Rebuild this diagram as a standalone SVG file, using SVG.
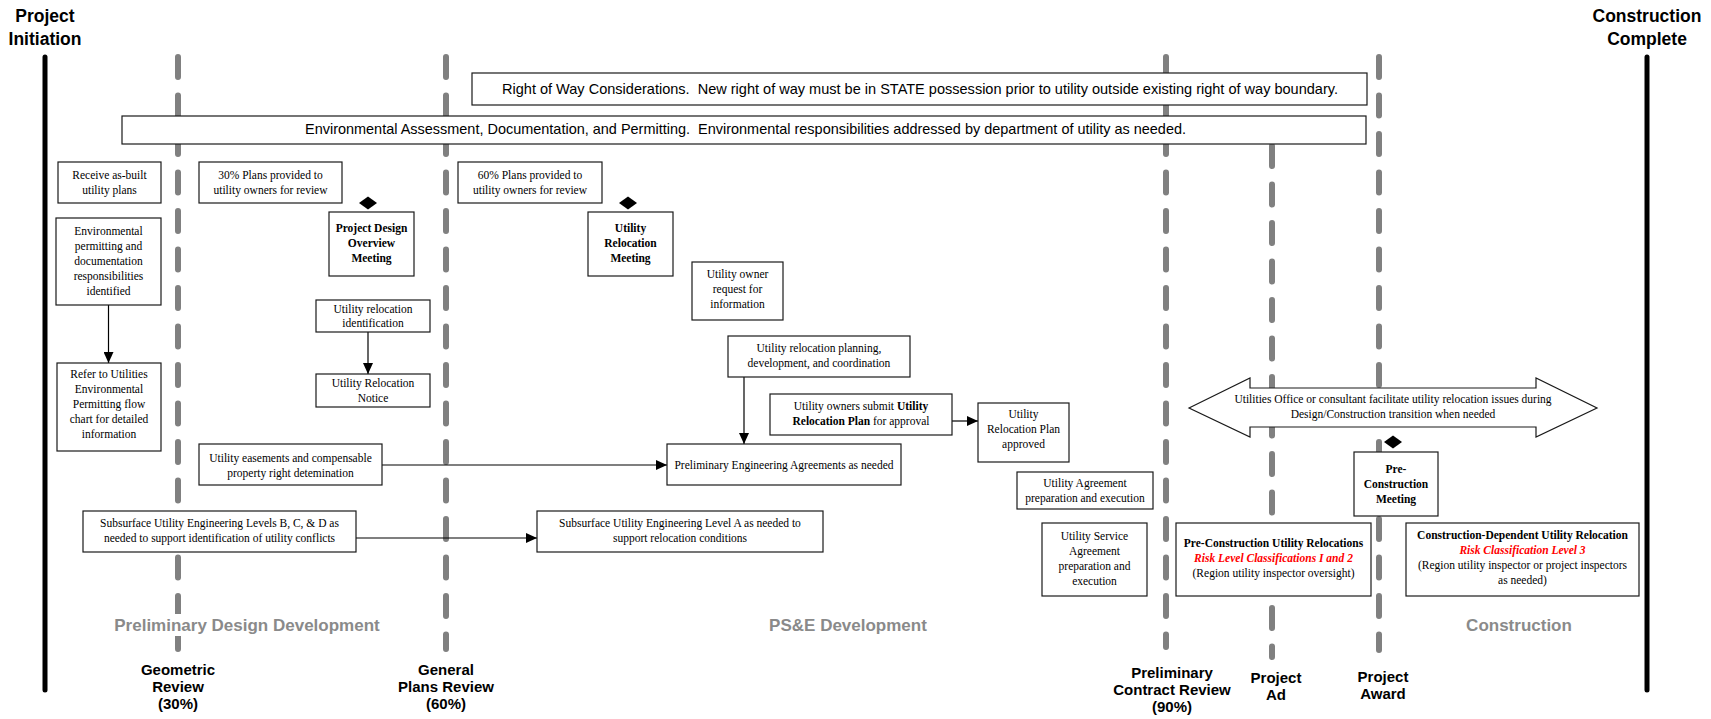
<svg xmlns="http://www.w3.org/2000/svg" width="1711" height="719" viewBox="0 0 1711 719">
<style>
.box{fill:#fff;stroke:#1a1a1a;stroke-width:1.2}
.t{font-family:"Liberation Serif","Times New Roman",serif;font-size:11.5px;fill:#000;text-anchor:middle}
.b{font-weight:bold}
.red{fill:#ff0000;font-weight:bold;font-style:italic}
.banner{font-family:"Liberation Sans",Arial,sans-serif;font-size:15px;fill:#000;text-anchor:middle}
.ms{font-family:"Liberation Sans",Arial,sans-serif;font-size:15px;font-weight:bold;fill:#000;text-anchor:middle}
.title{font-family:"Liberation Sans",Arial,sans-serif;font-size:17.5px;font-weight:bold;fill:#000;text-anchor:middle}
.phase{font-family:"Liberation Sans",Arial,sans-serif;font-size:17px;font-weight:bold;fill:#8a8a8a;text-anchor:middle}
.dash{stroke:#808080;stroke-width:6;stroke-dasharray:20 18.5;stroke-linecap:round;fill:none}
.bound{stroke:#000;stroke-width:5;stroke-linecap:round;fill:none}
.conn{stroke:#000;stroke-width:1.2;fill:none;marker-end:url(#ah)}
.dia{fill:#000}
</style>
<defs>
<marker id="ah" markerUnits="userSpaceOnUse" markerWidth="12" markerHeight="10" refX="11" refY="5" orient="auto">
<path d="M0,0 L11,5 L0,10 z" fill="#000"/>
</marker>
</defs>
<rect width="1711" height="719" fill="#fff"/>

<g id="timeline">
<line class="bound" x1="45" y1="57" x2="45" y2="690"/>
<line class="bound" x1="1647" y1="57" x2="1647" y2="690"/>
<line class="dash" x1="178" y1="57" x2="178" y2="649"/>
<line class="dash" x1="446" y1="57" x2="446" y2="649"/>
<line class="dash" x1="1166" y1="57" x2="1166" y2="647"/>
<line class="dash" x1="1272" y1="146" x2="1272" y2="657"/>
<line class="dash" x1="1379" y1="57" x2="1379" y2="650"/>
</g>

<g id="titles">
<text class="title" x="45" y="22">Project</text>
<text class="title" x="45" y="45">Initiation</text>
<text class="title" x="1647" y="22">Construction</text>
<text class="title" x="1647" y="45">Complete</text>
</g>

<g id="row-banner">
<rect class="box" x="472" y="73" width="895" height="32"/>
<text class="banner" x="920" y="94" textLength="836" lengthAdjust="spacingAndGlyphs">Right of Way Considerations.&#160; New right of way must be in STATE possession prior to utility outside existing right of way boundary.</text>
</g>
<g id="env-banner">
<rect class="box" x="122" y="116" width="1244" height="28"/>
<text class="banner" x="745.5" y="134" textLength="881" lengthAdjust="spacingAndGlyphs">Environmental Assessment, Documentation, and Permitting.&#160; Environmental responsibilities addressed by department of utility as needed.</text>
</g>

<g id="connectors">
<line class="conn" x1="108.5" y1="305" x2="108.5" y2="363"/>
<line class="conn" x1="368" y1="332" x2="368" y2="374"/>
<line class="conn" x1="382" y1="465" x2="667" y2="465"/>
<line class="conn" x1="356" y1="538" x2="537" y2="538"/>
<line class="conn" x1="744" y1="377" x2="744" y2="444"/>
<line class="conn" x1="952" y1="421" x2="978" y2="421"/>
</g>

<g id="asbuilt">
<rect class="box" x="58" y="162" width="103" height="41"/>
<text class="t" x="109.5" y="179">Receive as-built</text>
<text class="t" x="109.5" y="194">utility plans</text>
</g>
<g id="envperm">
<rect class="box" x="56" y="218" width="105" height="87"/>
<text class="t" x="108.5" y="235">Environmental</text>
<text class="t" x="108.5" y="250">permitting and</text>
<text class="t" x="108.5" y="265">documentation</text>
<text class="t" x="108.5" y="280">responsibilities</text>
<text class="t" x="108.5" y="295">identified</text>
</g>
<g id="refer">
<rect class="box" x="57" y="363" width="104" height="88"/>
<text class="t" x="109" y="378">Refer to Utilities</text>
<text class="t" x="109" y="393">Environmental</text>
<text class="t" x="109" y="408">Permitting flow</text>
<text class="t" x="109" y="423">chart for detailed</text>
<text class="t" x="109" y="438">information</text>
</g>
<g id="plans30">
<rect class="box" x="199" y="162" width="143" height="41"/>
<text class="t" x="270.5" y="179">30% Plans provided to</text>
<text class="t" x="270.5" y="194">utility owners for review</text>
</g>
<g id="pdom">
<path class="dia" d="M368,196.5 L377,203 L368,209.5 L359,203 z"/>
<rect class="box" x="329" y="212" width="85" height="64"/>
<text class="t b" x="371.5" y="232">Project Design</text>
<text class="t b" x="371.5" y="247">Overview</text>
<text class="t b" x="371.5" y="262">Meeting</text>
</g>
<g id="urid">
<rect class="box" x="316" y="300" width="114" height="32"/>
<text class="t" x="373" y="313">Utility relocation</text>
<text class="t" x="373" y="327">identification</text>
</g>
<g id="urn">
<rect class="box" x="316" y="374" width="114" height="33"/>
<text class="t" x="373" y="387">Utility Relocation</text>
<text class="t" x="373" y="402">Notice</text>
</g>
<g id="easement">
<rect class="box" x="199" y="444" width="183" height="41"/>
<text class="t" x="290.5" y="462">Utility easements and compensable</text>
<text class="t" x="290.5" y="477">property right detemination</text>
</g>
<g id="sue-bcd">
<rect class="box" x="83" y="511" width="273" height="41"/>
<text class="t" x="219.5" y="527">Subsurface Utility Engineering Levels B, C, &amp; D as</text>
<text class="t" x="219.5" y="542">needed to support identification of utility conflicts</text>
</g>
<g id="plans60">
<rect class="box" x="458" y="162" width="144" height="41"/>
<text class="t" x="530" y="179">60% Plans provided to</text>
<text class="t" x="530" y="194">utility owners for review</text>
</g>
<g id="urm">
<path class="dia" d="M628,196.5 L637,203 L628,209.5 L619,203 z"/>
<rect class="box" x="588" y="212" width="85" height="64"/>
<text class="t b" x="630.5" y="232">Utility</text>
<text class="t b" x="630.5" y="247">Relocation</text>
<text class="t b" x="630.5" y="262">Meeting</text>
</g>
<g id="uorfi">
<rect class="box" x="692" y="262" width="91" height="58"/>
<text class="t" x="737.5" y="278">Utility owner</text>
<text class="t" x="737.5" y="293">request for</text>
<text class="t" x="737.5" y="308">information</text>
</g>
<g id="urpdc">
<rect class="box" x="728" y="336" width="182" height="41"/>
<text class="t" x="819" y="352">Utility relocation planning,</text>
<text class="t" x="819" y="367">development, and coordination</text>
</g>
<g id="submit">
<rect class="box" x="770" y="394" width="182" height="41"/>
<text class="t" x="861" y="410">Utility owners submit <tspan class="b">Utility</tspan></text>
<text class="t" x="861" y="425"><tspan class="b">Relocation Plan</tspan> for approval</text>
</g>
<g id="urpa">
<rect class="box" x="978" y="403" width="91" height="59"/>
<text class="t" x="1023.5" y="418">Utility</text>
<text class="t" x="1023.5" y="433">Relocation Plan</text>
<text class="t" x="1023.5" y="448">approved</text>
</g>
<g id="pea">
<rect class="box" x="667" y="444" width="234" height="41"/>
<text class="t" x="784" y="469">Preliminary Engineering Agreements as needed</text>
</g>
<g id="sue-a">
<rect class="box" x="537" y="511" width="286" height="41"/>
<text class="t" x="680" y="527">Subsurface Utility Engineering Level A as needed to</text>
<text class="t" x="680" y="542">support relocation conditions</text>
</g>
<g id="uape">
<rect class="box" x="1017" y="472" width="136" height="37"/>
<text class="t" x="1085" y="487">Utility Agreement</text>
<text class="t" x="1085" y="502">preparation and execution</text>
</g>
<g id="usape">
<rect class="box" x="1042" y="523" width="105" height="73"/>
<text class="t" x="1094.5" y="540">Utility Service</text>
<text class="t" x="1094.5" y="555">Agreement</text>
<text class="t" x="1094.5" y="570">preparation and</text>
<text class="t" x="1094.5" y="585">execution</text>
</g>
<g id="facilitate">
<polygon class="box" points="1189,408 1250,378 1250,388 1536,388 1536,378 1597,408 1536,437 1536,427 1250,427 1250,437"/>
<text class="t" x="1393" y="403">Utilities Office or consultant facilitate utility relocation issues during</text>
<text class="t" x="1393" y="418">Design/Construction transition when needed</text>
</g>
<g id="pcm">
<path class="dia" d="M1393,435.5 L1402,442 L1393,448.5 L1384,442 z"/>
<rect class="box" x="1354" y="452" width="84" height="64"/>
<text class="t b" x="1396" y="473">Pre-</text>
<text class="t b" x="1396" y="488">Construction</text>
<text class="t b" x="1396" y="503">Meeting</text>
</g>
<g id="pcur">
<rect class="box" x="1176" y="523" width="195" height="73"/>
<text class="t b" x="1273.5" y="547">Pre-Construction Utility Relocations</text>
<text class="t red" x="1273.5" y="562">Risk Level Classifications I and 2</text>
<text class="t" x="1273.5" y="577">(Region utility inspector oversight)</text>
</g>
<g id="cdur">
<rect class="box" x="1406" y="523" width="233" height="73"/>
<text class="t b" x="1522.5" y="539">Construction-Dependent Utility Relocation</text>
<text class="t red" x="1522.5" y="554">Risk Classification Level 3</text>
<text class="t" x="1522.5" y="569">(Region utility inspector or project inspectors</text>
<text class="t" x="1522.5" y="584">as needed)</text>
</g>

<g id="phases">
<rect x="110" y="614" width="274" height="22" fill="#fff"/>
<text class="phase" x="247" y="631">Preliminary Design Development</text>
<text class="phase" x="848" y="631">PS&amp;E Development</text>
<text class="phase" x="1519" y="631">Construction</text>
</g>

<g id="milestones">
<text class="ms" x="178" y="675">Geometric</text>
<text class="ms" x="178" y="692">Review</text>
<text class="ms" x="178" y="709">(30%)</text>
<text class="ms" x="446" y="675">General</text>
<text class="ms" x="446" y="692">Plans Review</text>
<text class="ms" x="446" y="709">(60%)</text>
<text class="ms" x="1172" y="678">Preliminary</text>
<text class="ms" x="1172" y="695">Contract Review</text>
<text class="ms" x="1172" y="712">(90%)</text>
<text class="ms" x="1276" y="683">Project</text>
<text class="ms" x="1276" y="700">Ad</text>
<text class="ms" x="1383" y="682">Project</text>
<text class="ms" x="1383" y="699">Award</text>
</g>
</svg>
